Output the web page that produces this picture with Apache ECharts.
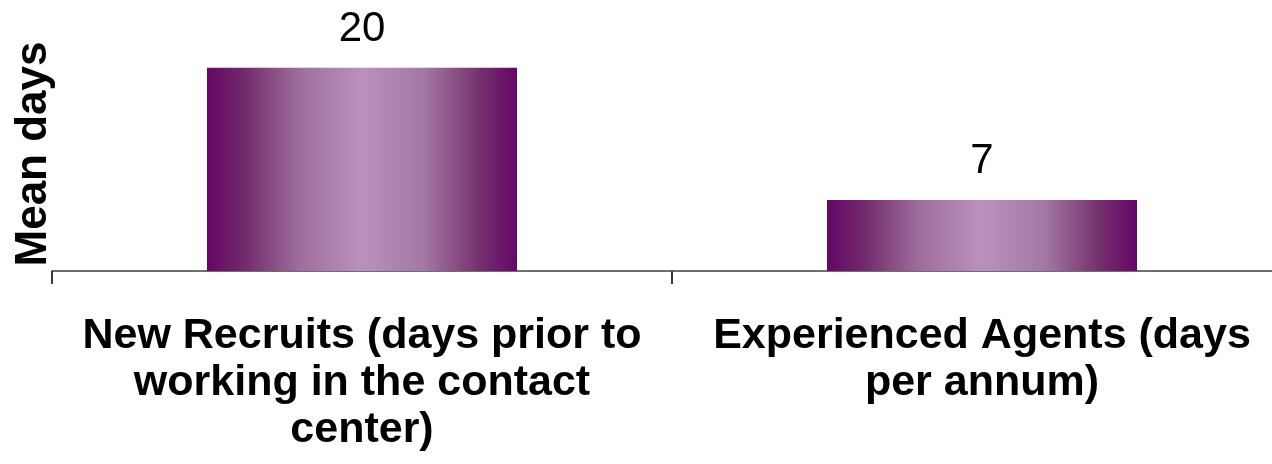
<!DOCTYPE html>
<html>
<head>
<meta charset="utf-8">
<title>Mean days of training</title>
<script src="https://cdn.jsdelivr.net/npm/echarts@6/dist/echarts.min.js"></script>
<style>
  html, body { margin: 0; padding: 0; background: #ffffff; }
  #chart { width: 1272px; height: 464px; }
</style>
</head>
<body>
<div id="chart"></div>
<script>
// Training days by agent group
const categories = [
  'New Recruits (days prior to\nworking in the contact\ncenter)',
  'Experienced Agents (days\nper annum)'
];
const meanDays = [20, 7];
const axisName = 'Mean days';

const FONT = '"Liberation Sans", Arial, Helvetica, sans-serif';

// Cylinder-like shading across each bar
const barFill = {
  type: 'linear', x: 0, y: 0, x2: 1, y2: 0,
  colorStops: [
    { offset: 0.00, color: '#650665' },
    { offset: 0.12, color: '#722A6C' },
    { offset: 0.30, color: '#9E6E9D' },
    { offset: 0.50, color: '#BC90BD' },
    { offset: 0.70, color: '#A478A4' },
    { offset: 0.88, color: '#74306E' },
    { offset: 1.00, color: '#650665' }
  ]
};

const chart = echarts.init(document.getElementById('chart'), null, { renderer: 'canvas' });
chart.setOption({
  animation: false,
  backgroundColor: '#ffffff',
  grid: {
    left: 52, right: -20, top: 17, bottom: 193,
    containLabel: false,
    outerBoundsMode: 'none'
  },
  xAxis: {
    type: 'category',
    data: categories,
    boundaryGap: true,
    axisLine: { show: true, lineStyle: { color: '#6e6e6e', width: 2 } },
    axisTick: { show: true, length: 13, inside: false, lineStyle: { color: '#3a3a3a', width: 2 } },
    axisLabel: {
      interval: 0,
      margin: 42,
      color: '#000000',
      fontFamily: FONT,
      fontWeight: 'bold',
      fontSize: 43,
      lineHeight: 47,
      align: 'center'
    }
  },
  yAxis: {
    type: 'value',
    min: 0,
    max: 25,
    name: axisName,
    nameLocation: 'middle',
    nameRotate: 90,
    nameGap: -4,
    nameTextStyle: {
      color: '#000000',
      fontFamily: FONT,
      fontWeight: 'bold',
      fontSize: 44,
      padding: [0, 20, 0, 0]
    },
    axisLine: { show: false },
    axisTick: { show: false },
    axisLabel: { show: false },
    splitLine: { show: false }
  },
  series: [{
    type: 'bar',
    data: meanDays,
    barWidth: '50%',
    itemStyle: { color: barFill },
    label: {
      show: true,
      position: 'top',
      distance: 17,
      color: '#000000',
      fontFamily: FONT,
      fontSize: 42
    }
  }]
});
</script>
</body>
</html>
